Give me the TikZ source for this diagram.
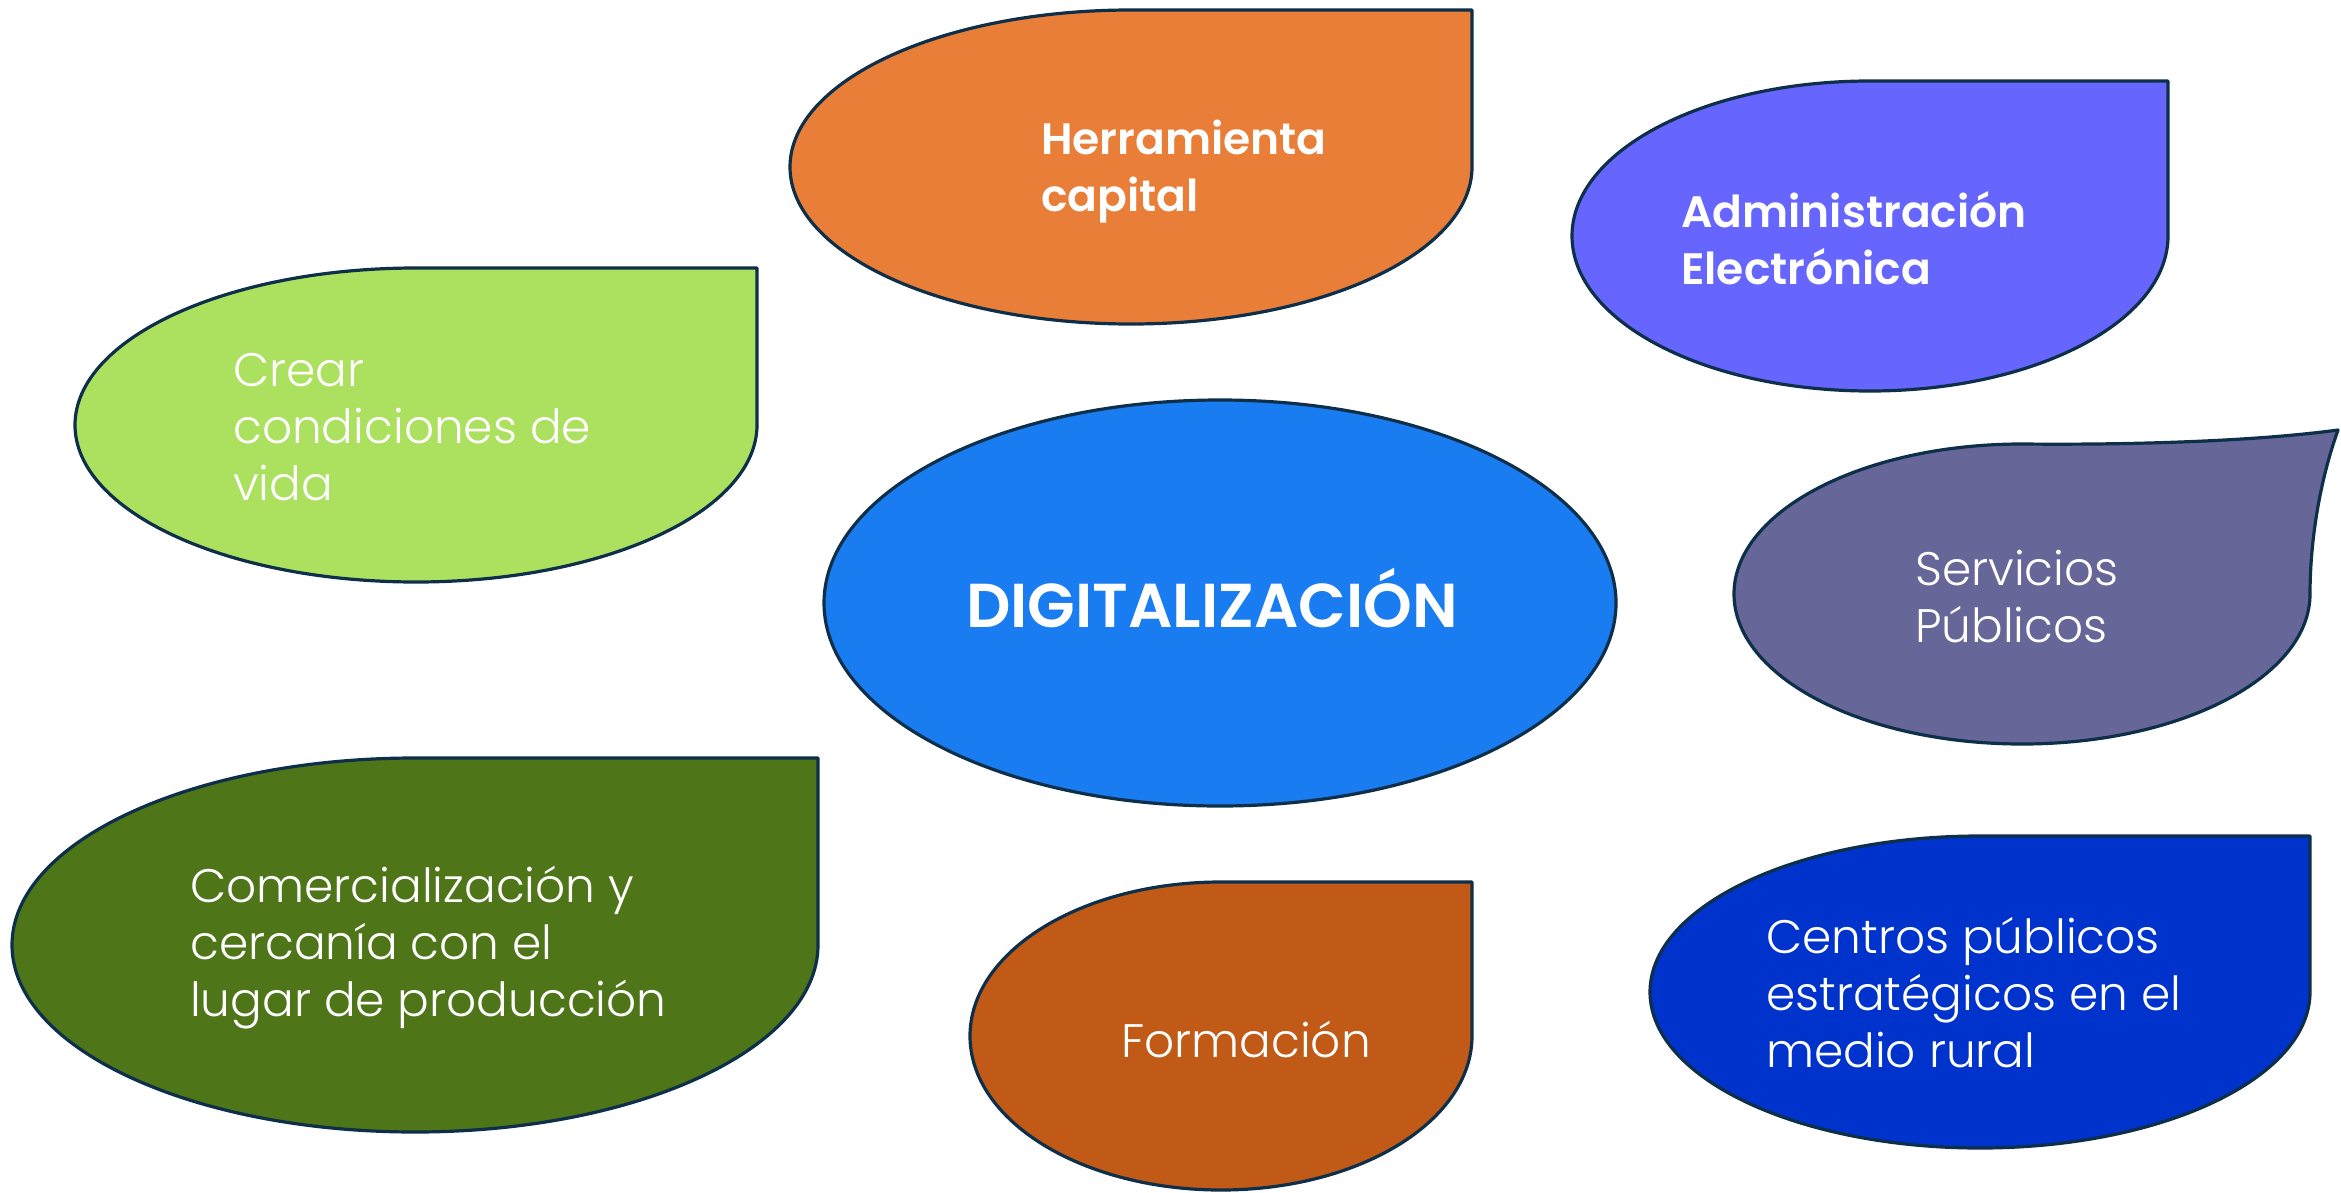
\documentclass[tikz,border=0pt]{standalone}
\usepackage{fontspec}
\setmainfont{Poppins}[BoldFont={Poppins SemiBold}]
\newfontfamily\thinfont{Poppins Light}
\usetikzlibrary{positioning}
\definecolor{leafOrange}{HTML}{E97E38}
\definecolor{leafViolet}{HTML}{6666FF}
\definecolor{leafLime}{HTML}{ACE05F}
\definecolor{digiBlue}{HTML}{197CF1}
\definecolor{leafSlate}{HTML}{666699}
\definecolor{leafOlive}{HTML}{4F7519}
\definecolor{leafRust}{HTML}{C05A16}
\definecolor{leafNavy}{HTML}{0033CC}
\definecolor{edgeNavy}{HTML}{0E2F4A}

% leaf shape: ellipse with a square top-right corner
% #1,#2 centre, #3,#4 radii, #5 fill colour
\newcommand{\leaf}[5]{%
  \draw[leafline, fill=#5, shift={(#1,#2)}] (0,-#4) -- (#3,-#4) -- (#3,0)
    arc[start angle=0, end angle=270, x radius=#3, y radius=#4] -- cycle;}

\begin{document}
\begin{tikzpicture}[
    x=1pt, y=-1pt,
    leafline/.style={draw=edgeNavy, line width=3.2pt, line join=round},
    lighttext/.style={text=white, font=\thinfont\fontsize{47}{57}\selectfont, align=left, anchor=west, inner sep=0pt},
    boldtext/.style={text=white, font=\bfseries\fontsize{44}{57}\selectfont, align=left, anchor=west, inner sep=0pt},
    bigtext/.style={text=white, font=\bfseries\fontsize{62}{70}\selectfont, inner sep=0pt}
]
\useasboundingbox (0,0) rectangle (2341,1193);

% top row
\leaf{1131}{167}{341}{157}{leafOrange}
\node[boldtext] (herramienta) at (1041,172) {Herramienta\\capital};

\leaf{1870}{236}{298}{155}{leafViolet}
\node[boldtext] (administracion) at (1681,238) {Administración\\Electrónica};

% left side
\leaf{416}{425}{341}{157}{leafLime}
\node[lighttext] (crear) at (233,427) {Crear\\condiciones de\\vida};

\leaf{415}{945}{403}{187}{leafOlive}
\node[lighttext] (comercial) at (190,948) {Comercialización y\\cercanía con el\\lugar de producción};

% centre
\draw[leafline, fill=digiBlue] (1220,603) ellipse [x radius=396, y radius=203];
\node[bigtext] (digital) at (1212,598) {DIGITALIZACIÓN};

% right side, pointed tip
\draw[leafline, fill=leafSlate] (2310,594)
    arc[start angle=0, end angle=270, x radius=288, y radius=150]
    .. controls (2120,445) and (2250,442) .. (2338,430)
    .. controls (2320,480) and (2310,540) .. cycle;
\node[lighttext] (servicios) at (1915,597) {Servicios\\Públicos};

\leaf{1980}{992}{330}{156}{leafNavy}
\node[lighttext] (centros) at (1766,993) {Centros públicos\\estratégicos en el\\medio rural};

% bottom
\leaf{1221}{1036}{251}{154}{leafRust}
\node[lighttext] (formacion) at (1121,1039) {Formación};
\end{tikzpicture}
\end{document}
